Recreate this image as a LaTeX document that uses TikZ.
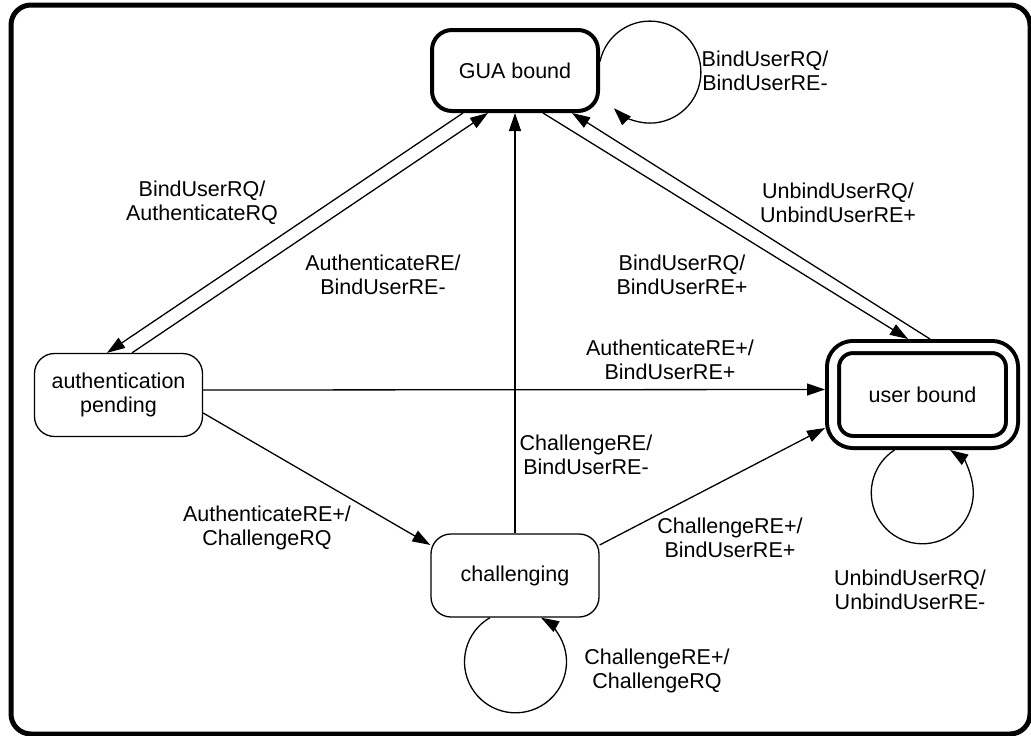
\documentclass[tikz,border=0pt]{standalone}
\usepackage{fontspec}
\setmainfont{Liberation Sans}
\usetikzlibrary{arrows.meta}

\begin{document}
\begin{tikzpicture}[x=1pt, y=-1pt,
  every node/.style={font=\fontsize{21.5}{24}\selectfont, align=center},
  statebox/.style={draw, rounded corners=20pt, line width=1.3pt, minimum width=168pt, minimum height=83pt, inner sep=0pt},
  guabox/.style={statebox, line width=4pt, minimum width=166pt, minimum height=81pt},
  finalbox/.style={statebox, line width=4pt, double, double distance=8pt, outer sep=8pt, minimum width=179pt, minimum height=95pt},
  trans/.style={-{Triangle[length=18pt,width=12pt]}, line width=1.3pt}]
  \useasboundingbox (0,0) rectangle (1031,736);
  \draw[line width=5pt, rounded corners=20pt] (11,5) rectangle (1030,734);

  \node[guabox] (gua) at (515,70.5) {GUA bound};
  \node[statebox] (authpending) at (118.5,395) {authentication\\pending};
  \node[finalbox] (userbound) at (922.5,394.5) {user bound};
  \node[statebox] (challenging) at (515,575.5) {challenging};

  \draw[trans] ([xshift=-52pt]gua.south) -- ([xshift=-11.5pt]authpending.north);
  \draw[trans] ([xshift=13.5pt]authpending.north) -- ([xshift=-27pt]gua.south);
  \draw[trans] ([xshift=28pt]gua.south) -- ([xshift=-14.5pt]userbound.north);
  \draw[trans] ([xshift=7.5pt]userbound.north) -- ([xshift=57pt]gua.south);
  \draw[trans] ([yshift=5pt]authpending.east) -- ([yshift=5pt]userbound.west);
  \draw[trans] ([yshift=-18pt]authpending.east) -- ([yshift=30.5pt]challenging.west);
  \draw[trans] (challenging.north) -- (gua.south);
  \draw[trans] ([yshift=30.5pt]challenging.east) -- ([yshift=-33.5pt]userbound.west);
  \draw[trans] ([yshift=9pt]gua.east) arc[start angle=192, end angle=495, radius=51];
  \draw[trans] ([xshift=-25pt]challenging.south) arc[start angle=240, end angle=-60, radius=51];
  \draw[trans] ([xshift=-28pt]userbound.south) arc[start angle=237, end angle=-57, radius=51];

  \node (bindrq) at (765,71) {BindUserRQ/\\BindUserRE-};
  \node (bindauth) at (202,203) {BindUserRQ/\\AuthenticateRQ};
  \node (authfail) at (383,275) {AuthenticateRE/\\BindUserRE-};
  \node (unbindok) at (838,203) {UnbindUserRQ/\\UnbindUserRE+};
  \node (bindok) at (682,275) {BindUserRQ/\\BindUserRE+};
  \node (authok) at (670,360) {AuthenticateRE+/\\BindUserRE+};
  \node (chalfail) at (586,455) {ChallengeRE/\\BindUserRE-};
  \node (authchal) at (267,528) {AuthenticateRE+/\\ChallengeRQ};
  \node (chalok) at (730,538) {ChallengeRE+/\\BindUserRE+};
  \node (unbindfail) at (910,590) {UnbindUserRQ/\\UnbindUserRE-};
  \node (chalagain) at (657,671) {ChallengeRE+/\\ChallengeRQ};
\end{tikzpicture}
\end{document}
